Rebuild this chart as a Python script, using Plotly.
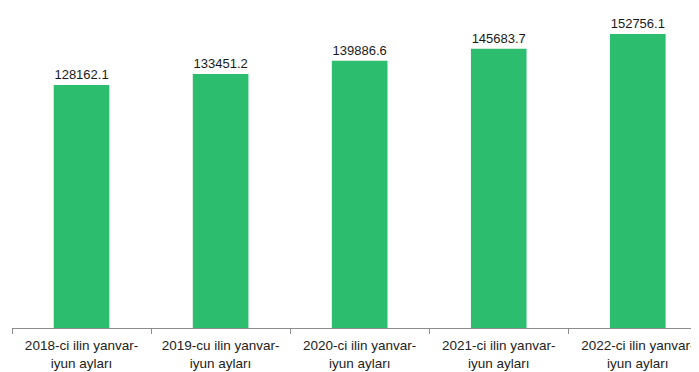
import plotly.graph_objects as go

categories = [
    "2018-ci ilin yanvar-<br>iyun ayları",
    "2019-cu ilin yanvar-<br>iyun ayları",
    "2020-ci ilin yanvar-<br>iyun ayları",
    "2021-ci ilin yanvar-<br>iyun ayları",
    "2022-ci ilin yanvar-<br>iyun ayları",
]
values = [128162.1, 133451.2, 139886.6, 145683.7, 152756.1]
labels = [f"{v:.1f}" for v in values]

fig = go.Figure(
    go.Bar(
        x=categories,
        y=values,
        text=labels,
        textposition="outside",
        cliponaxis=False,
        width=0.4,
        marker=dict(color="#2dbd6e", line=dict(width=0)),
        textfont=dict(family="Liberation Sans, Arial, sans-serif", size=13, color="#1a1a1a"),
    )
)

fig.update_layout(
    width=691,
    height=364,
    margin=dict(l=4, r=0, t=12, b=44, autoexpand=False),
    paper_bgcolor="white",
    plot_bgcolor="white",
    showlegend=False,
    font=dict(family="Liberation Sans, Arial, sans-serif", size=13, color="#222222"),
    xaxis=dict(
        range=[-0.5, 4.44],
        automargin=False,
        showline=True,
        linecolor="#8c8c8c",
        linewidth=1,
        ticks="outside",
        tickson="boundaries",
        ticklen=5,
        tickcolor="#8c8c8c",
        showgrid=False,
        ticklabeloverflow="allow",
        ticklabelstandoff=5,
        tickfont=dict(size=13.5, color="#222222"),
    ),
    yaxis=dict(
        range=[11000, 159500],
        visible=False,
        automargin=False,
        showgrid=False,
        zeroline=False,
    ),
)

fig.write_html("out.html")
